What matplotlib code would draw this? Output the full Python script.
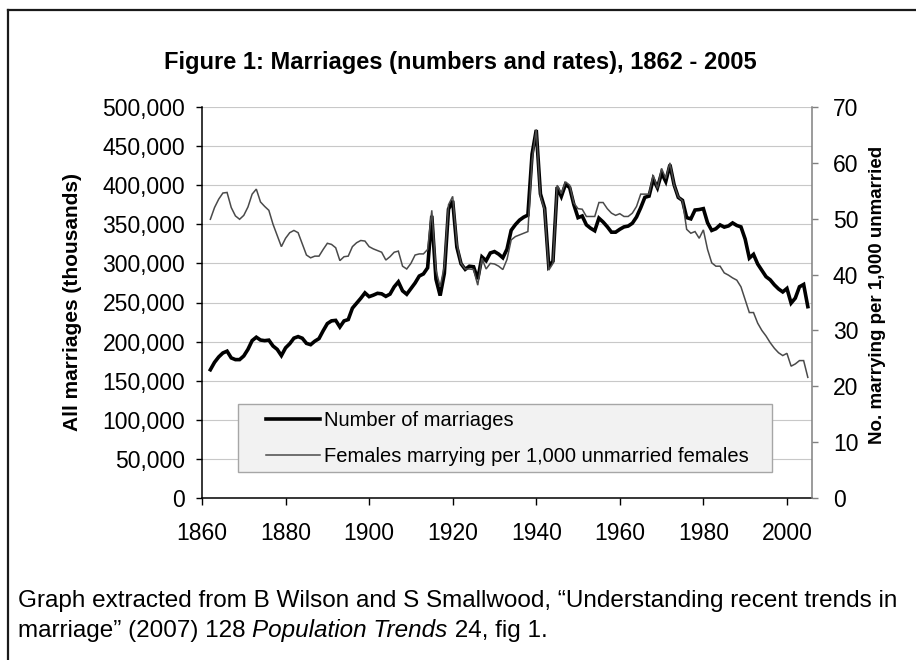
import numpy as np
import matplotlib
matplotlib.use("Agg")
import matplotlib.pyplot as plt
from matplotlib.ticker import FuncFormatter, MultipleLocator
from matplotlib.patches import Rectangle
from matplotlib.lines import Line2D

plt.rcParams['font.family'] = ['Liberation Sans', 'DejaVu Sans']

# Data (England & Wales)
years = np.arange(1862, 2006)

marriages = [
    164030, 173510, 180387, 185474, 187776, 179154, 176962, 176970, 181655, 190112,
    201267, 205615, 202010, 201212, 201874, 194352, 190054, 182082, 191965, 197290,
    204405, 206384, 204301, 197745, 196071, 200518, 203821, 213865, 223028, 226526,
    227135, 218689, 226449, 228204, 242764, 249145, 255379, 262334, 257480, 259400,
    261750, 261103, 257856, 260742, 270038, 276421, 264940, 260544, 267721, 274943,
    283834, 286583, 294401, 360885, 279846, 258855, 287163, 369411, 379982, 320852,
    299524, 292408, 296416, 295689, 279860, 308292, 303373, 313316, 315109, 311847,
    307184, 318191, 342307, 349536, 355337, 359156, 361768, 439694, 470549, 388921,
    370664, 296040, 302714, 397626, 385606, 401210, 396891, 375120, 358490, 360624,
    349308, 344997, 341731, 357857, 352944, 346903, 339913, 339932, 343614, 346678,
    347732, 351329, 359307, 371127, 384497, 386052, 407822, 396746, 415487, 404737,
    426241, 400435, 384389, 380620, 358567, 356954, 368258, 368853, 370022, 351973,
    342166, 344334, 349186, 346389, 347924, 351761, 348492, 346697, 331150, 306756,
    311564, 299197, 291069, 283012, 278975, 272536, 267303, 263515, 267961, 249227,
    255596, 270109, 273069, 244701,
]

female_rate = [
    49.9, 52.0, 53.5, 54.6, 54.7, 52.0, 50.5, 49.9, 50.6, 52.1,
    54.4, 55.3, 53.0, 52.2, 51.5, 49.0, 47.0, 45.0, 46.5, 47.5,
    47.9, 47.5, 45.5, 43.5, 43.0, 43.3, 43.3, 44.5, 45.6, 45.4,
    44.8, 42.5, 43.2, 43.3, 45.0, 45.7, 46.1, 46.0, 45.0, 44.6,
    44.3, 44.0, 42.6, 43.2, 44.0, 44.2, 41.5, 41.0, 42.0, 43.5,
    43.7, 43.7, 44.5, 51.5, 40.8, 37.8, 41.5, 52.5, 54.0, 45.6,
    42.0, 41.0, 41.0, 40.9, 38.1, 42.9, 41.0, 42.0, 41.9, 41.5,
    40.9, 42.7, 46.2, 46.8, 47.1, 47.4, 47.7, 60.5, 66.0, 54.0,
    51.6, 40.8, 42.0, 56.0, 54.5, 56.6, 56.0, 52.8, 51.8, 51.7,
    50.4, 50.4, 50.4, 52.9, 52.9, 51.8, 51.0, 50.6, 50.9, 50.4,
    50.4, 51.0, 52.2, 54.4, 54.4, 54.4, 57.8, 55.4, 59.0, 57.2,
    60.0, 56.0, 53.9, 53.2, 48.1, 47.4, 47.7, 46.5, 48.0, 44.5,
    42.1, 41.5, 41.5, 40.3, 39.9, 39.4, 39.0, 37.8, 35.5, 33.2,
    33.2, 31.3, 30.0, 29.0, 27.8, 26.8, 26.0, 25.5, 25.9, 23.6,
    24.0, 24.6, 24.6, 21.6,
]

x_ticks = [1860, 1880, 1900, 1920, 1940, 1960, 1980, 2000]

W, H = 916, 660
fig = plt.figure(figsize=(W / 100, H / 100), dpi=100)
ax = fig.add_axes([202 / W, 1 - 498 / H, 610 / W, 391 / H])
ax2 = ax.twinx()

# main series
ax.plot(years, marriages, color='black', lw=2.6, solid_joinstyle='miter', zorder=3)
ax2.plot(years, female_rate, color='#4a4a4a', lw=1.1, solid_joinstyle='miter', zorder=3)

ax.set_xlim(1860, 2006)
ax.set_ylim(0, 500000)
ax2.set_ylim(0, 70)
ax.set_xticks(x_ticks)
ax.yaxis.set_major_locator(MultipleLocator(50000))
ax2.yaxis.set_major_locator(MultipleLocator(10))
ax.yaxis.set_major_formatter(FuncFormatter(lambda v, p: f'{int(v):,}'))

ax.grid(axis='y', color='#c8c8c8', lw=0.8)
ax.set_axisbelow(True)

for s in ['top', 'right']:
    ax.spines[s].set_visible(False)
for s in ['top', 'left', 'bottom']:
    ax2.spines[s].set_visible(False)
ax.spines['left'].set_linewidth(1.1)
ax.spines['bottom'].set_linewidth(1.1)
ax2.spines['right'].set_color('#808080')
ax2.spines['right'].set_linewidth(1.1)

ax.tick_params(axis='x', length=5, width=1, pad=12, labelsize=16.5)
ax.tick_params(axis='y', length=4, width=1, pad=8, labelsize=16.5)
ax2.tick_params(axis='y', length=4, width=1, color='#808080', pad=11, labelsize=16.5)

# legend box
ax2.add_patch(Rectangle((0.059, 0.0665), 0.875, 0.174, transform=ax2.transAxes,
                        facecolor='#f2f2f2', edgecolor='#a6a6a6', lw=1, zorder=4))
handles = [Line2D([], [], color='black', lw=2.6),
           Line2D([], [], color='#4a4a4a', lw=1.1)]
leg = ax2.legend(handles, ['Number of marriages',
                           'Females marrying per 1,000 unmarried females'],
                 loc='upper left', bbox_to_anchor=(0.105, 0.222), frameon=False,
                 fontsize=14.5, handlelength=2.7, handletextpad=0.2,
                 labelspacing=0.85, borderpad=0, borderaxespad=0)
leg.set_zorder(5)

fig.text(460 / W, 1 - 62 / H, 'Figure 1: Marriages (numbers and rates), 1862 - 2005',
         ha='center', va='center', fontsize=17, fontweight='bold')
fig.text(72 / W, 1 - 302 / H, 'All marriages (thousands)', rotation=90,
         ha='center', va='center', fontsize=15, fontweight='bold')
fig.text(877 / W, 1 - 295 / H, 'No. marrying per 1,000 unmarried', rotation=90,
         ha='center', va='center', fontsize=13.5, fontweight='bold')

# caption, second line has an italic title in it
cap_size = 17.5
fig.text(18 / W, 1 - 607 / H,
         'Graph extracted from B Wilson and S Smallwood, \u201cUnderstanding recent trends in',
         ha='left', va='baseline', fontsize=cap_size)
renderer = fig.canvas.get_renderer()
x0 = 18 / W
y2 = 1 - 637 / H
parts = [('marriage\u201d (2007) 128 ', 'normal'), ('Population Trends', 'italic'),
         (' 24, fig 1.', 'normal')]
for txt, style in parts:
    t = fig.text(x0, y2, txt, ha='left', va='baseline', fontsize=cap_size, style=style)
    bb = t.get_window_extent(renderer=renderer)
    x0 += bb.width / W

# border (top and left edges only)
fig.add_artist(Line2D([8 / W, 1], [1 - 9.5 / H, 1 - 9.5 / H], color='#1a1a1a', lw=1.6))
fig.add_artist(Line2D([8 / W, 8 / W], [0, 1 - 9.5 / H], color='#1a1a1a', lw=1.6))

fig.savefig('out.png', dpi=100)
